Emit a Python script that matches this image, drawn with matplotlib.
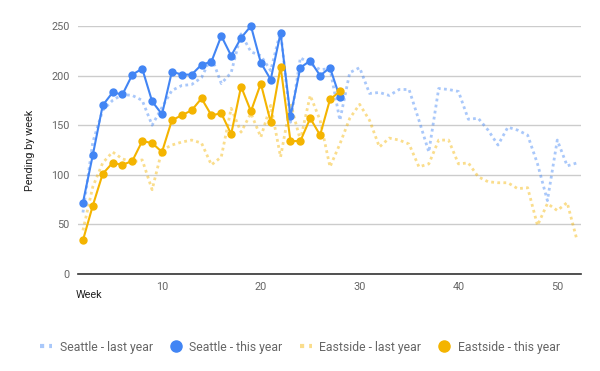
import numpy as np
import matplotlib
matplotlib.use("Agg")
import matplotlib.pyplot as plt
from matplotlib.lines import Line2D

plt.rcParams['font.family'] = ['Roboto', 'DejaVu Sans']

# -----------------------------
# Dados
# -----------------------------
semanas_ano_passado = list(range(2, 53))
semanas_este_ano = list(range(2, 29))

seattle_ano_passado = [62, 133, 165, 175, 181, 180, 175, 150, 168, 185,
                       190, 191, 198, 219, 192, 203, 242, 224, 220, 205,
                       245, 153, 218, 212, 206, 207, 155, 203, 208, 182,
                       183, 180, 186, 186, 155, 123, 187, 186, 184, 156,
                       157, 145, 130, 148, 145, 140, 111, 74, 135, 109, 112]

seattle_este_ano = [72, 120, 170, 183, 181, 201, 207, 174, 161, 204,
                    201, 201, 211, 214, 240, 220, 238, 250, 213, 196,
                    243, 159, 208, 215, 200, 208, 178]

eastside_ano_passado = [44, 88, 112, 123, 116, 113, 115, 85, 125, 130,
                        133, 135, 132, 110, 118, 167, 143, 162, 138, 170,
                        118, 172, 135, 180, 155, 108, 131, 157, 171, 155,
                        128, 137, 135, 131, 108, 111, 135, 135, 111, 112,
                        98, 93, 92, 92, 86, 87, 49, 71, 64, 72, 34]

eastside_este_ano = [34, 69, 101, 112, 110, 114, 134, 132, 123, 155,
                     160, 165, 177, 160, 162, 141, 189, 164, 192, 153,
                     209, 134, 134, 157, 140, 176, 184]

rotulos_series = ["Seattle - last year", "Seattle - this year",
                  "Eastside - last year", "Eastside - this year"]

AZUL = "#4285F4"
AMARELO = "#F4B400"
CINZA_TEXTO = "#666666"

# -----------------------------
# Figura
# -----------------------------
fig = plt.figure(figsize=(6, 3.71), dpi=100)
ax = fig.add_axes([78 / 600, 1 - 274 / 371, (581 - 78) / 600, (274 - 26) / 371])

pontilhado = (0, (1, 1.2))
ax.plot(semanas_ano_passado, seattle_ano_passado, color=AZUL, alpha=0.45,
        linewidth=2, linestyle=pontilhado, zorder=2)
ax.plot(semanas_ano_passado, eastside_ano_passado, color=AMARELO, alpha=0.45,
        linewidth=2, linestyle=pontilhado, zorder=2)
ax.plot(semanas_este_ano, seattle_este_ano, color=AZUL, linewidth=1.5,
        marker='o', markersize=5, zorder=3, clip_on=False)
ax.plot(semanas_este_ano, eastside_este_ano, color=AMARELO, linewidth=1.5,
        marker='o', markersize=5, zorder=3, clip_on=False)

ax.set_xlim(1.5, 52.4)
ax.set_ylim(0, 250)
ax.set_xticks([10, 20, 30, 40, 50])
ax.set_yticks([0, 50, 100, 150, 200, 250])
ax.grid(axis='y', color="#cccccc", linewidth=1)
ax.set_axisbelow(True)
for lado in ['top', 'right', 'left']:
    ax.spines[lado].set_visible(False)
ax.spines['bottom'].set_color("#333333")
ax.spines['bottom'].set_linewidth(1.2)
ax.spines['bottom'].set_zorder(4)
ax.tick_params(length=0, labelsize=7.8, labelcolor=CINZA_TEXTO)
ax.tick_params(axis='y', pad=6)
ax.tick_params(axis='x', pad=6)

fig.text(76 / 600, 1 - 295 / 371, "Week", fontsize=7.8, color="#222222",
         va='center', ha='left')
fig.text(30 / 600, 1 - 150 / 371, "Pending by week", fontsize=7.8,
         color="#222222", rotation=90, va='center', ha='center')

# Legenda
alcas = [
    Line2D([], [], color=AZUL, alpha=0.45, linewidth=3, linestyle=(0, (1, 1.2))),
    Line2D([], [], color=AZUL, marker='o', markersize=8, linestyle='None'),
    Line2D([], [], color=AMARELO, alpha=0.45, linewidth=3, linestyle=(0, (1, 1.2))),
    Line2D([], [], color=AMARELO, marker='o', markersize=8, linestyle='None'),
]
leg = fig.legend(alcas, rotulos_series, loc='center', ncol=4, frameon=False,
                 bbox_to_anchor=(300 / 600, 1 - 347 / 371), fontsize=8.8,
                 handlelength=1.0, handletextpad=0.6, columnspacing=1.4,
                 labelcolor=CINZA_TEXTO)

fig.savefig("out.png", dpi=100)
plt.close(fig)
